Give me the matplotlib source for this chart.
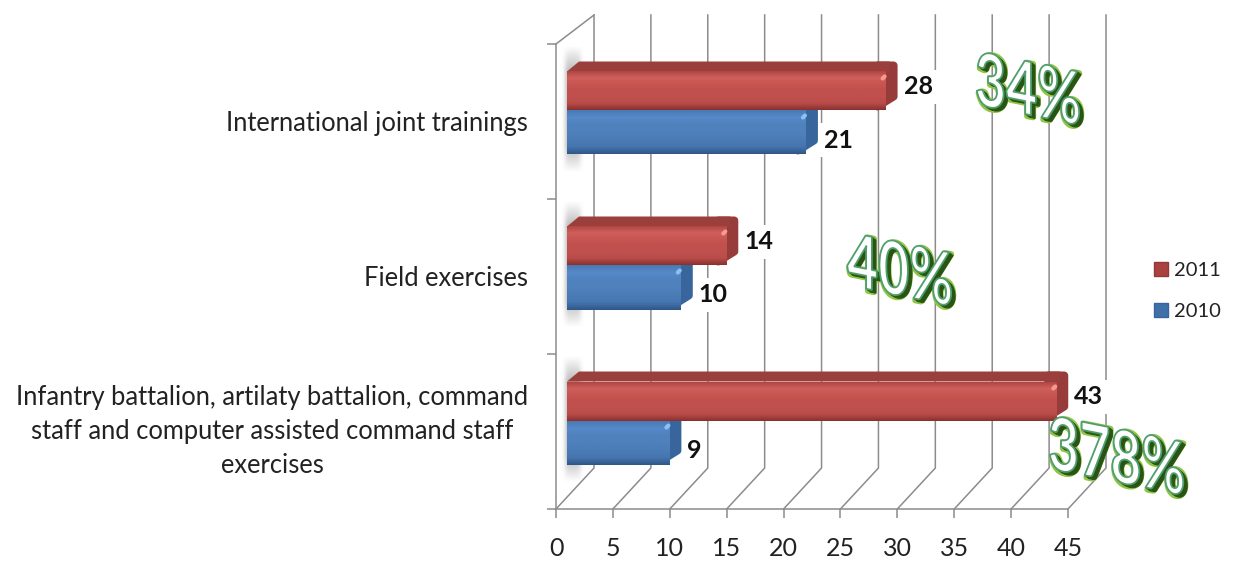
import numpy as np
import matplotlib
matplotlib.use("Agg")
import matplotlib.pyplot as plt
from matplotlib.colors import LinearSegmentedColormap, to_rgb
from matplotlib.patches import Polygon, Patch
from matplotlib.patheffects import AbstractPathEffect
from matplotlib.transforms import Affine2D

categories = ["Infantry battalion, artilaty battalion, command\nstaff and computer assisted command staff\nexercises",
              "Field exercises", "International joint trainings"]
values_2011 = [43, 14, 28]
values_2010 = [9, 10, 21]
series_names = ["2011", "2010"]
x_ticks = [0, 5, 10, 15, 20, 25, 30, 35, 40, 45]
percent_labels = ["34%", "40%", "378%"]

plt.rcParams["font.family"] = ["Lato", "DejaVu Sans"]
W, H = 1234, 561
fig = plt.figure(figsize=(W / 100, H / 100), dpi=100, facecolor="white")
L, R, T, B = 556, 1068, 44, 509
ax = fig.add_axes([L / W, 1 - B / H, (R - L) / W, (B - T) / H])
PX = 45 / (R - L)          # data units per pixel, x
PY = 3 / (B - T)           # data units per pixel, y
GRID = "#8c8c8c"


def ramp(colors):
    return LinearSegmentedColormap.from_list("r", colors)


# gradient stops run from the top of the face to its bottom
RED = dict(face=["#b04744", "#cf5f5c", "#c75552", "#c0504d", "#c0504d", "#b94c49", "#8a3230"],
           side="#973c3a", top="#9a3f3c", spot="#f59a8e")
BLUE = dict(face=["#4a7ab5", "#5589c8", "#4f81bd", "#4f81bd", "#4b7cb6", "#4676b0", "#2f5788"],
            side="#38659b", top="#38659b", spot="#8cc0f0")
grad = np.linspace(0, 1, 64).reshape(-1, 1)
RND = 4.0


def bar(c, v, y0, y1, st, z):
    """Bevelled 3-D bar; v is the value, (y0, y1) the face band relative to category c."""
    x0 = 11 * PX
    xe = v + x0
    dx, dy = 12 * PX, 10 * PY
    rx, ry = RND * PX, RND * PY
    lw = RND * 2 * 0.72
    # rounded end cap (inset polygon with a thick round-joined edge)
    ax.add_patch(Polygon([(xe - 2 * rx, c + y0 + ry), (xe + dx - rx, c + y0 + dy + ry),
                          (xe + dx - rx, c + y1 + dy - ry), (xe - 2 * rx, c + y1 + dy - ry)],
                         fc=st["side"], ec=st["side"], lw=lw, joinstyle="round", clip_on=False, zorder=z))
    # top band
    ax.add_patch(Polygon([(x0, c + y1), (x0 + dx, c + y1 + dy), (xe + 4 * PX, c + y1 + dy), (xe + 4 * PX, c + y1)],
                         fc=st["top"], ec="none", clip_on=False, zorder=z))
    ax.imshow(grad, cmap=ramp(st["face"]), aspect="auto", extent=(x0, xe, c + y0, c + y1),
              clip_on=False, zorder=z + 0.1, interpolation="bilinear")
    ax.plot([xe - 3 * PX, xe - 1 * PX], [c + y1 - 7 * PY, c + y1 - 5 * PY], color=st["spot"], lw=3,
            solid_capstyle="round", clip_on=False, zorder=z + 0.2)


# back wall, floor and gridlines, built from the value ticks
DX_BACK, DY_BACK = 38 * PX, 41 * PY
for t in x_ticks:
    ax.plot([t, t + DX_BACK, t + DX_BACK], [-0.5, -0.5 + DY_BACK, 2.5 + 29 * PY], color=GRID, lw=1.1,
            clip_on=False, zorder=1)
ax.plot([0, DX_BACK], [2.5, 2.5 + 29 * PY], color=GRID, lw=1.1, clip_on=False, zorder=1)

# soft shadows on the side wall
shadow = np.zeros((60, 40, 4))
sx = np.exp(-((np.linspace(-1, 1, 40)) ** 4) * 4)
sy = np.clip(np.minimum(np.linspace(0, 5, 60), np.linspace(5, 0, 60)), 0, 1)
shadow[..., :3] = 0.66
shadow[..., 3] = np.outer(sy, sx) * 0.8
for c in range(len(categories)):
    ax.imshow(shadow, aspect="auto", extent=(5 * PX, 29 * PX, c - 0.33, c + 0.49), clip_on=False, zorder=1.5)

# bars and value labels
for c, (v1, v0) in enumerate(zip(values_2011, values_2010)):
    bar(c, v0, -33 * PY, 11 * PY, BLUE, 3)
    bar(c, v1, 11 * PY, 50 * PY, RED, 4)
    for v, off, in ((v1, 35), (v0, -18.5)):
        ax.annotate(str(v), (v + 11 * PX, c), xytext=(18, off), textcoords="offset pixels",
                    ha="left", va="center", fontsize=18, fontweight="bold", color="#111111", zorder=6,
                    annotation_clip=False,
                    bbox=dict(fc="white", ec="none", boxstyle="square,pad=0.22"))

ax.set_xlim(0, 45)
ax.set_ylim(-0.5, 2.5)
for s in ("top", "right"):
    ax.spines[s].set_visible(False)
for s in ("left", "bottom"):
    ax.spines[s].set_color(GRID)
    ax.spines[s].set_linewidth(1.1)
ax.patch.set_alpha(0)
ax.set_xticks(x_ticks)
ax.set_xticklabels([str(t) for t in x_ticks])
ax.set_yticks([-0.5, 0.5, 1.5, 2.5])
ax.set_yticklabels([])
ax.set_yticks([0, 1, 2], minor=True)
ax.set_yticklabels(categories, minor=True, multialignment="center", linespacing=1.47)
ax.tick_params(axis="x", length=6.5, width=1.1, color=GRID, labelsize=18, labelcolor="#222222", pad=14)
ax.tick_params(axis="y", which="major", length=6.5, width=1.1, color=GRID)
ax.tick_params(axis="y", which="minor", length=0, labelsize=18.4, labelcolor="#222222", pad=20)
ax.get_yticklabels(minor=True)[0].set_va("center")

# legend
handles = [Patch(fc="#a8413f", ec="#8f3a38", label=series_names[0]),
           Patch(fc="#3f70aa", ec="#38659b", label=series_names[1])]
fig.legend(handles=handles, loc="center left", bbox_to_anchor=(1154 / W, 1 - 291 / H), frameon=False,
           fontsize=14.5, labelcolor="#222222", handlelength=0.7, handleheight=0.7, handletextpad=0.3,
           labelspacing=1.2, borderpad=0, borderaxespad=0)


class Slant(AbstractPathEffect):
    """Draws the text path sheared and rescaled, as WordArt does."""

    def __init__(self, face, edge, lw, dx=0, dy=0, shear=0.2, xs=0.92, ys=1.26):
        super().__init__()
        self.p = (face, edge, lw, dx, dy, shear, xs, ys)

    def draw_path(self, renderer, gc, tpath, affine, rgbFace=None):
        face, edge, lw, dx, dy, shear, xs, ys = self.p
        m = affine.get_matrix()
        ox, oy = m[0, 2], m[1, 2]
        t = affine + Affine2D().translate(-ox, -oy).scale(xs, ys) \
            + Affine2D.from_values(1, -shear, 0, 1, 0, 0) + Affine2D().translate(ox + dx, oy + dy)
        g = renderer.new_gc()
        g.copy_properties(gc)
        g.set_foreground(edge)
        g.set_linewidth(lw)
        g.set_joinstyle("round")
        renderer.draw_path(g, tpath, t, to_rgb(face))
        g.restore()


effects = [Slant("#8fc23f", "#93c544", 4.5, 2, -2)]
effects += [Slant("#1f3f10", "#2c5a16", 0.8, d, -d * 0.8) for d in (4, 3, 2, 1)]
effects += [Slant("#ffffff", "#4f9f6f", 1.3)]
for text, x, y in zip(percent_labels, (975, 847, 1048), (104, 285, 468)):
    fig.text(x / W, 1 - y / H, text, fontsize=42, fontweight="bold", ha="left", va="baseline", color="white",
             path_effects=effects, zorder=10)

fig.savefig("out.png", dpi=100, facecolor="white")
